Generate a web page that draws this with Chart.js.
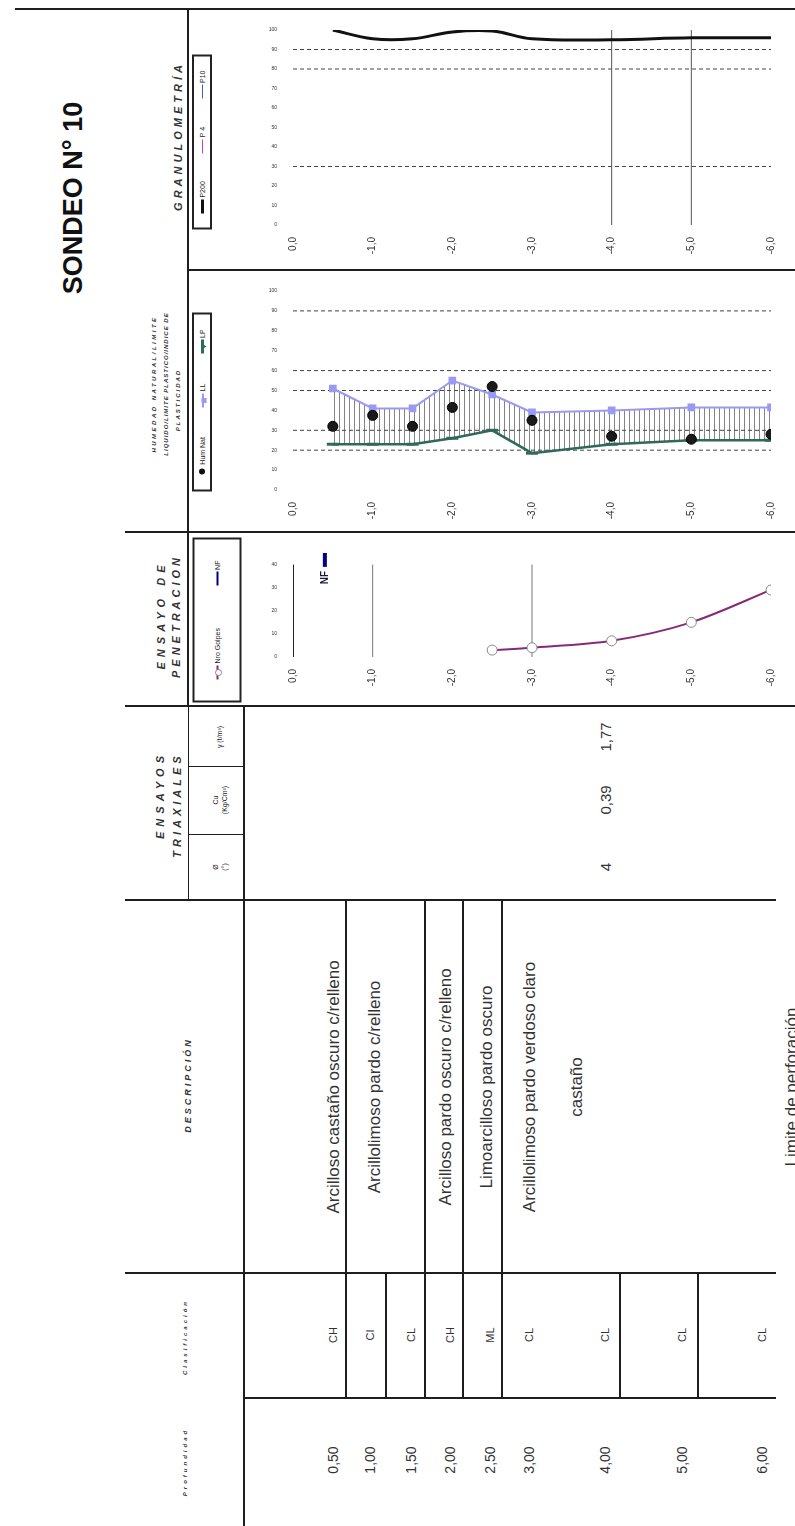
<!DOCTYPE html>
<html>
<head>
<meta charset="utf-8">
<script src="https://cdn.jsdelivr.net/npm/chart.js@4.4.1/dist/chart.umd.min.js"></script>
<style>
html,body{margin:0;padding:0;background:#fff;}
#page{position:relative;width:795px;height:1526px;overflow:hidden;font-family:"Liberation Sans",Arial,sans-serif;color:#222;}
.ln{position:absolute;background:#1e1e1e;}
.rt{position:absolute;white-space:nowrap;line-height:1;transform:translate(-50%,-50%) rotate(-90deg);}
.hd{font-weight:bold;font-style:italic;color:#333;}
.lg{position:absolute;box-sizing:border-box;border:2px solid #222;background:#fff;display:flex;align-items:center;justify-content:space-around;font-size:7px;white-space:nowrap;transform:translate(-50%,-50%) rotate(-90deg);}
.sym{display:inline-block;position:relative;width:14px;height:0;vertical-align:middle;margin-right:2px;}
.mk{position:absolute;left:50%;top:50%;transform:translate(-50%,-50%);}
</style>
</head>
<body>
<div id="page"></div>
<script>
// Depth of each sample (m) and chart ticks
const depths = [-0.5, -1, -1.5, -2, -2.5, -3, -4, -5, -6];
const depthTicks = [0, -1, -2, -3, -4, -5, -6];

// Granulometria
const p200 = [100, 95.5, 95.5, 99, 99.5, 95.5, 95, 96, 96];
const granRef = [90, 80, 30];
const granMarks = [-4, -5];

// Humedad / limites
const humNat = [32, 37.5, 32, 41.5, 52, 35, 27, 25.5, 28];
const limLiq = [51, 41, 41, 55, 48, 39, 40, 41.5, 41.5];
const limPlas = [23, 23, 23, 26, 30, 18.5, 23, 25, 25];
const plasRef = [90, 60, 50, 30, 20];

// Penetracion
const golpesDepth = [-2.5, -3, -4, -5, -6];
const golpes = [3, 4, 7, 15, 29];
const penTicks = [0, 10, 20, 30, 40];
const penMarks = [0, -1, -3];
const nfDepth = -0.4;
const nfRange = [39, 45];

// Tabla
const muestras = ['0,50', '1,00', '1,50', '2,00', '2,50', '3,00', '4,00', '5,00', '6,00'];
const clasif = ['CH', 'CI', 'CL', 'CH', 'ML', 'CL', 'CL', 'CL', 'CL'];
const descripcion = ['Arcilloso castaño oscuro c/relleno', 'Arcillolimoso pardo c/relleno',
  'Arcilloso pardo oscuro c/relleno', 'Limoarcilloso pardo oscuro',
  'Arcillolimoso pardo verdoso claro', 'castaño', 'Limite de perforación'];
const triaxCampos = ['γ (t/m³)', 'Cu|(Kg/Cm²)', 'Ø|(°)'];
const triaxValores = ['1,77', '0,39', '4'];

// layout (picture pixels)
const rowX = [333, 370, 411, 450, 490, 529, 605, 682, 762];
const descX = [333, 374, 445, 486, 529, 576, 791];
const descLines = [345, 424, 462, 501];
const clasLines = [385, 619, 697];
const triaxY = [737, 800, 867];

const page = document.getElementById('page');
Chart.defaults.font.family = '"Liberation Sans", Arial, sans-serif';

function line(x, y, w, h){
  const d = document.createElement('div');
  d.className = 'ln';
  d.style.cssText = `left:${x}px;top:${y}px;width:${w}px;height:${h}px`;
  page.appendChild(d);
}
function text(str, cx, cy, css, cls){
  const d = document.createElement('div');
  d.className = 'rt' + (cls ? ' ' + cls : '');
  d.innerHTML = str;
  d.style.cssText = `left:${cx}px;top:${cy}px;` + (css || '');
  page.appendChild(d);
  return d;
}
function legend(cx, cy, len, thick, html){
  const d = document.createElement('div');
  d.className = 'lg';
  d.style.cssText = `left:${cx}px;top:${cy}px;width:${len}px;height:${thick}px`;
  d.innerHTML = html;
  page.appendChild(d);
}
const sym = (color, w, mark) => `<span class="sym" style="border-top:${w}px solid ${color}">${mark ? `<span class="mk" style="${mark}"></span>` : ''}</span>`;

// frame
line(15, 8, 780, 2);
line(187, 9, 2, 698);
line(243, 706, 2, 820);
line(188, 269, 607, 2);
line(125, 531, 670, 2);
line(125, 705, 670, 2);
line(125, 899, 651, 2);
line(125, 1272, 651, 2);
line(244, 1397, 532, 2);
line(188, 766, 56, 1);
line(188, 834, 56, 1);
line(188, 706, 1, 194);
descLines.forEach(x => line(x, 900, 2, 498));
clasLines.forEach(x => line(x, 1273, 2, 125));

// headers
text('SONDEO N° 10', 73, 198, 'font-size:27px;font-weight:bold;color:#111');
text('GRANULOMETRÍA', 178, 136, 'font-size:11px;letter-spacing:4px', 'hd');
text('HUMEDAD NATURAL/LIMITE', 154, 384, 'font-size:6px;letter-spacing:2.5px', 'hd');
text('LIQUIDO/LIMITE PLASTICO/INDICE DE', 166, 384, 'font-size:6px;letter-spacing:1px', 'hd');
text('PLASTICIDAD', 178, 400, 'font-size:6px;letter-spacing:2px', 'hd');
text('ENSAYO DE', 161, 615, 'font-size:11px;letter-spacing:5px', 'hd');
text('PENETRACION', 176, 616, 'font-size:11px;letter-spacing:4px', 'hd');
text('ENSAYOS', 160, 795, 'font-size:11px;letter-spacing:5px', 'hd');
text('TRIAXIALES', 177, 805, 'font-size:11px;letter-spacing:4px', 'hd');
text('DESCRIPCIÓN', 188, 1085, 'font-size:9px;letter-spacing:3px', 'hd');
text('Clasificación', 185, 1337, 'font-size:6px;letter-spacing:3px', 'hd');
text('Profundidad', 185, 1462, 'font-size:6px;letter-spacing:3px', 'hd');
triaxCampos.forEach((t, i) => text(t.split('|').join('<br>'), 220, triaxY[i], 'font-size:7px;text-align:center;line-height:1.3'));

// table content
triaxValores.forEach((v, i) => text(v, rowX[6], triaxY[i], 'font-size:15px;color:#333'));
descripcion.forEach((t, i) => text(t, descX[i], 1087, 'font-size:17px;color:#333'));
clasif.forEach((t, i) => text(t, rowX[i], 1335, 'font-size:11px;color:#333'));
muestras.forEach((t, i) => text(t, rowX[i], 1460, 'font-size:14px;color:#333'));

// legends
legend(202, 142, 175, 20,
  `<span>${sym('#111', 3)}P200</span><span>${sym('#c040c0', 1)}P 4</span><span>${sym('#4060c0', 1)}P10</span>`);
legend(202, 402, 179, 20,
  `<span><span style="display:inline-block;width:6px;height:6px;border-radius:50%;background:#111;margin-right:4px"></span>Hum Nat</span>` +
  `<span>${sym('#9a9af0', 2, 'width:5px;height:5px;background:#9a9af0')}LL</span>` +
  `<span>${sym('#2e6b5a', 3, 'width:0;height:0;border-left:3px solid transparent;border-right:3px solid transparent;border-top:5px solid #2e6b5a')}LP</span>`);
legend(217, 620, 165, 49,
  `<span>${sym('#862a78', 2, 'width:5px;height:5px;border-radius:50%;background:#fff;border:1px solid #888')}Nro Golpes</span><span>${sym('#000080', 2)}NF</span>`);

// charts
const pts = (xs, ys) => xs.map((x, i) => ({x, y: ys[i]}));
const hline = v => [{x: depthTicks[0], y: v}, {x: depthTicks[depthTicks.length - 1], y: v}];
const vline = (d, a, b) => [{x: d, y: a}, {x: d, y: b}];
const fmtDepth = v => v.toFixed(1).replace('.', ',');
const dashed = v => ({data: hline(v), borderColor: '#444', borderWidth: 1, borderDash: [4, 3], pointRadius: 0, order: 9});
const thin = (d, a, b, c, w) => ({data: vline(d, a, b), borderColor: c, borderWidth: w, pointRadius: 0, order: 8});

function mkChart(box, area, yOpt, datasets, plugins){
  const c = document.createElement('canvas');
  c.width = box.w; c.height = box.h;
  c.style.cssText = `position:absolute;left:${box.x}px;top:${box.y}px;width:${box.w}px;height:${box.h}px`;
  page.appendChild(c);
  return new Chart(c, {
    type: 'line',
    data: {datasets},
    options: {
      responsive: false, animation: false, devicePixelRatio: 1,
      layout: {padding: {left: 0, top: area.t - box.y, right: box.x + box.w - area.r, bottom: 0}},
      plugins: {legend: {display: false}, tooltip: {enabled: false}},
      elements: {line: {tension: 0}},
      scales: {
        x: {
          type: 'linear', min: -6, max: 0, reverse: true,
          border: {display: false}, grid: {display: false, drawTicks: false},
          afterBuildTicks: s => { s.ticks = depthTicks.map(v => ({value: v})); },
          afterFit: s => { s.height = box.y + box.h - area.b; },
          ticks: {minRotation: 90, maxRotation: 90, autoSkip: false, padding: 12, color: '#333', font: {size: 10}, callback: v => fmtDepth(v)}
        },
        y: Object.assign({
          border: {display: false}, grid: {display: false, drawTicks: false},
          afterFit: s => { s.width = area.l - box.x; }
        }, yOpt)
      }
    },
    plugins: plugins || []
  });
}

// granulometria
mkChart({x: 244, y: 11, w: 551, h: 257}, {l: 293, r: 782, t: 23, b: 225},
  {min: 0, max: 100, ticks: {stepSize: 10, padding: 16, color: '#333', font: {size: 5}}},
  [
    {data: pts(depths, p200), borderColor: '#111', borderWidth: 3, pointRadius: 0, tension: 0.4, order: 0},
    ...granRef.map(dashed),
    ...granMarks.map(d => thin(d, -2, 100, '#555', 1))
  ]);

// humedad / limites con rayado entre LL y LP
const hatchCv = document.createElement('canvas');
hatchCv.width = 5; hatchCv.height = 1;
const hctx = hatchCv.getContext('2d');
hctx.fillStyle = 'rgba(80,80,80,0.7)';
hctx.fillRect(0, 0, 1, 1);
const hatch = hctx.createPattern(hatchCv, 'repeat');

mkChart({x: 244, y: 272, w: 551, h: 258}, {l: 293, r: 782, t: 285, b: 490},
  {min: 0, max: 100, ticks: {stepSize: 10, padding: 16, color: '#333', font: {size: 5}}},
  [
    {data: pts(depths, humNat), showLine: false, pointRadius: 5, pointBackgroundColor: '#1a1a1a', pointBorderColor: '#000', order: 0},
    {data: pts(depths, limLiq), borderColor: '#9a9af0', borderWidth: 2, pointStyle: 'rect', pointRadius: 4,
      pointBackgroundColor: '#9a9af0', pointBorderColor: '#9a9af0', fill: 2, backgroundColor: hatch, order: 1},
    {data: pts(depths, limPlas), borderColor: '#2e6b5a', borderWidth: 2.5, pointStyle: 'line', pointRadius: 6,
      pointBorderWidth: 3, pointBorderColor: '#2e6b5a', order: 2},
    ...plasRef.map(dashed)
  ]);

// penetracion
const nfLabel = {
  id: 'nfLabel',
  afterDatasetsDraw(ch){
    const {ctx, scales: {x, y}} = ch;
    ctx.save();
    ctx.translate(x.getPixelForValue(nfDepth), y.getPixelForValue(nfRange[0]) + 4);
    ctx.rotate(-Math.PI / 2);
    ctx.font = 'bold 10px "Liberation Sans", Arial';
    ctx.fillStyle = '#1a1a40';
    ctx.textAlign = 'right';
    ctx.textBaseline = 'middle';
    ctx.fillText('NF', 0, 0);
    ctx.restore();
  }
};
mkChart({x: 244, y: 534, w: 551, h: 170}, {l: 293, r: 782, t: 542, b: 657},
  {min: 0, max: 45, afterBuildTicks: s => { s.ticks = penTicks.map(v => ({value: v})); },
    ticks: {padding: 16, color: '#333', font: {size: 5}}},
  [
    {data: pts(golpesDepth, golpes), borderColor: '#862a78', borderWidth: 2, tension: 0.3, pointRadius: 5,
      pointBackgroundColor: '#fff', pointBorderColor: '#888', pointBorderWidth: 1, order: 0},
    {data: vline(nfDepth, nfRange[0], nfRange[1]), borderColor: '#000080', borderWidth: 4, pointRadius: 0, order: 1},
    ...penMarks.map((d, i) => thin(d, 0, penTicks[penTicks.length - 1], i === 0 ? '#222' : '#777', i === 0 ? 2 : 1))
  ], [nfLabel]);
</script>
</body>
</html>
